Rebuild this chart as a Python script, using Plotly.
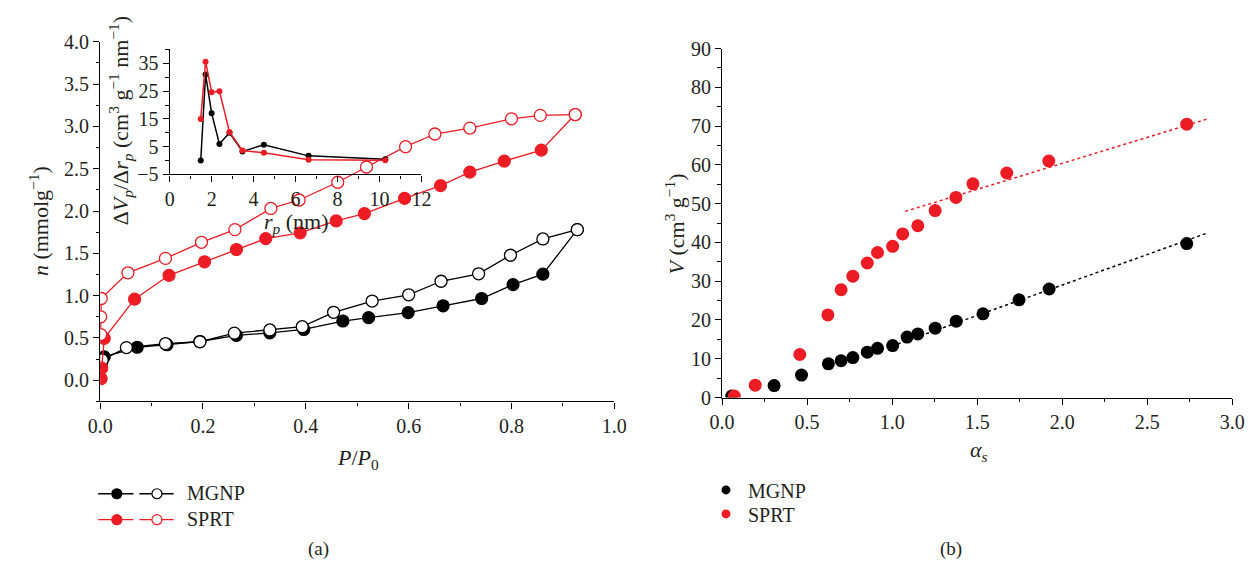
import plotly.graph_objects as go

# ---------------- data: panel (a) main isotherms ----------------
mgnp_ads_x = [0.003, 0.008, 0.072, 0.130, 0.194, 0.265, 0.330, 0.396, 0.472, 0.522, 0.599, 0.667, 0.742, 0.803, 0.861, 0.928]
mgnp_ads_y = [0.21, 0.277, 0.39, 0.42, 0.458, 0.53, 0.56, 0.60, 0.70, 0.74, 0.80, 0.88, 0.966, 1.13, 1.254, 1.78]
mgnp_des_x = [0.928, 0.861, 0.798, 0.736, 0.663, 0.600, 0.529, 0.454, 0.393, 0.330, 0.261, 0.194, 0.127, 0.051, 0.004]
mgnp_des_y = [1.78, 1.67, 1.477, 1.258, 1.17, 1.01, 0.936, 0.803, 0.633, 0.595, 0.557, 0.455, 0.432, 0.386, 0.24]

sprt_ads_x = [0.002, 0.003, 0.008, 0.067, 0.134, 0.203, 0.265, 0.322, 0.389, 0.459, 0.514, 0.592, 0.662, 0.719, 0.786, 0.858, 0.924]
sprt_ads_y = [0.02, 0.143, 0.495, 0.958, 1.24, 1.40, 1.545, 1.674, 1.742, 1.883, 1.97, 2.15, 2.30, 2.46, 2.59, 2.72, 3.14]
sprt_des_x = [0.924, 0.856, 0.800, 0.719, 0.651, 0.594, 0.518, 0.462, 0.387, 0.332, 0.262, 0.197, 0.127, 0.054, 0.002, 0.001, 0.001]
sprt_des_y = [3.14, 3.13, 3.09, 2.98, 2.91, 2.76, 2.52, 2.34, 2.13, 2.03, 1.78, 1.63, 1.44, 1.27, 0.966, 0.75, 0.54]

# ---------------- data: panel (a) inset PSD ----------------
psd_r = [1.48, 1.71, 2.00, 2.37, 2.85, 3.47, 4.49, 6.62, 10.28]
psd_mgnp = [0.0, 31.0, 17.0, 6.0, 10.0, 3.3, 5.7, 1.7, 0.5]
psd_sprt = [15.0, 35.6, 24.6, 25.0, 10.3, 3.6, 2.8, 0.3, 0.1]

# ---------------- data: panel (b) alpha-s plots ----------------
as_mgnp_x = [0.057, 0.306, 0.467, 0.625, 0.700, 0.769, 0.854, 0.914, 1.003, 1.088, 1.151, 1.253, 1.377, 1.534, 1.746, 1.923, 2.732]
as_mgnp_y = [0.4, 3.1, 5.8, 8.7, 9.5, 10.3, 11.7, 12.7, 13.4, 15.6, 16.4, 17.9, 19.7, 21.6, 25.2, 28.0, 39.7]
as_sprt_x = [0.072, 0.195, 0.457, 0.622, 0.700, 0.769, 0.854, 0.914, 1.003, 1.062, 1.151, 1.253, 1.375, 1.475, 1.674, 1.921, 2.732]
as_sprt_y = [0.4, 3.2, 11.1, 21.3, 27.8, 31.3, 34.7, 37.4, 39.0, 42.2, 44.3, 48.2, 51.6, 55.1, 57.9, 61.0, 70.5]
fit_mgnp_x = [1.00, 2.851]
fit_mgnp_y = [13.3, 42.4]
fit_sprt_x = [1.077, 2.851]
fit_sprt_y = [48.0, 71.8]

legend_names = ["MGNP", "SPRT"]

BLACK = "#000000"
RED = "#ed1c24"
TXT = "#231f20"
FONT = "Liberation Serif"
W, H = 1260, 573


def px(x):
    return x / W


def py(y):
    return 1 - y / H


fig = go.Figure()

# main (a)
fig.add_trace(go.Scatter(x=mgnp_ads_x, y=mgnp_ads_y, mode="lines+markers", xaxis="x", yaxis="y",
                         line=dict(color=BLACK, width=1.3),
                         marker=dict(size=12, color=BLACK, line=dict(color=BLACK, width=1.2)), showlegend=False))
fig.add_trace(go.Scatter(x=mgnp_des_x, y=mgnp_des_y, mode="lines+markers", xaxis="x", yaxis="y",
                         line=dict(color=BLACK, width=1.3),
                         marker=dict(size=12, color="white", line=dict(color=BLACK, width=1.3)), showlegend=False))
fig.add_trace(go.Scatter(x=sprt_ads_x, y=sprt_ads_y, mode="lines+markers", xaxis="x", yaxis="y",
                         line=dict(color=RED, width=1.3),
                         marker=dict(size=12, color=RED, line=dict(color=RED, width=1.2)), showlegend=False))
fig.add_trace(go.Scatter(x=sprt_des_x, y=sprt_des_y, mode="lines+markers", xaxis="x", yaxis="y",
                         line=dict(color=RED, width=1.3),
                         marker=dict(size=12, color="white", line=dict(color=RED, width=1.3)), showlegend=False))

# inset
fig.add_trace(go.Scatter(x=psd_r, y=psd_mgnp, mode="lines+markers", xaxis="x3", yaxis="y3",
                         line=dict(color=BLACK, width=1.5), marker=dict(size=6, color=BLACK), showlegend=False))
fig.add_trace(go.Scatter(x=psd_r, y=psd_sprt, mode="lines+markers", xaxis="x3", yaxis="y3",
                         line=dict(color=RED, width=1.5), marker=dict(size=6, color=RED), showlegend=False))

# (b)
fig.add_trace(go.Scatter(x=fit_mgnp_x, y=fit_mgnp_y, mode="lines", xaxis="x2", yaxis="y2",
                         line=dict(color=BLACK, width=1.5, dash="dot"), showlegend=False))
fig.add_trace(go.Scatter(x=fit_sprt_x, y=fit_sprt_y, mode="lines", xaxis="x2", yaxis="y2",
                         line=dict(color=RED, width=1.5, dash="dot"), showlegend=False))
fig.add_trace(go.Scatter(x=as_mgnp_x, y=as_mgnp_y, mode="markers", xaxis="x2", yaxis="y2",
                         marker=dict(size=13, color=BLACK), showlegend=False))
fig.add_trace(go.Scatter(x=as_sprt_x, y=as_sprt_y, mode="markers", xaxis="x2", yaxis="y2",
                         marker=dict(size=13, color=RED), showlegend=False))

axis_common = dict(showline=True, linecolor=BLACK, linewidth=1.2, ticks="outside", ticklen=6,
                   tickcolor=BLACK, tickwidth=1.2, showgrid=False, zeroline=False,
                   tickfont=dict(family=FONT, size=20, color=TXT))
minor_common = dict(ticks="outside", ticklen=3.5, tickcolor=BLACK, tickwidth=1.1, showgrid=False)

fig.update_layout(
    width=W, height=H, margin=dict(l=0, r=0, t=0, b=0),
    paper_bgcolor="white", plot_bgcolor="rgba(0,0,0,0)",
    font=dict(family=FONT, size=20, color=TXT),
    xaxis=dict(domain=[px(89), px(614)], anchor="y", range=[0, 1.0], dtick=0.2, tick0=0, tickformat=".1f",
               minor=dict(dtick=0.1, **minor_common), **axis_common),
    yaxis=dict(domain=[py(406), py(32)], anchor="x", range=[-0.25, 4.0], dtick=0.5, tick0=0, tickformat=".1f",
               minor=dict(dtick=0.25, tick0=0, **minor_common), **axis_common),
    xaxis2=dict(domain=[px(724), px(1245)], anchor="y2", range=[0, 3.0], dtick=0.5, tick0=0, tickformat=".1f",
                minor=dict(dtick=0.25, **minor_common), **axis_common),
    yaxis2=dict(domain=[py(402), py(39)], anchor="x2", range=[0, 90], dtick=10, tick0=0,
                minor=dict(dtick=5, **minor_common), **axis_common),
    xaxis3=dict(domain=[px(160), px(417)], anchor="y3", range=[0, 12], dtick=2, tick0=0,
                minor=dict(dtick=1, **minor_common), **axis_common),
    yaxis3=dict(domain=[py(170), py(40)], anchor="x3", range=[-5, 40], tickvals=[-5, 5, 15, 25, 35],
                minor=dict(dtick=5, tick0=0, **minor_common), **axis_common),
)

ann = []
def add_text(text, x, y, angle=0, xanchor="center", size=20):
    ann.append(dict(text=text, x=px(x), y=py(y), xref="paper", yref="paper", showarrow=False,
                    textangle=angle, xanchor=xanchor, yanchor="middle",
                    font=dict(family=FONT, size=size, color=TXT)))

add_text("<i>P</i>/<i>P</i><sub>0</sub>", 352, 466, size=22)
add_text("<i>n</i> (mmolg<sup>−1</sup>)", 26, 218, angle=-90, size=22)
add_text("Δ<i>V<sub>p</sub></i>/Δ<i>r<sub>p</sub></i> (cm<sup>3</sup> g<sup>−1</sup> nm<sup>−1</sup>)", 110, 114, angle=-90, size=22)
add_text("<i>r<sub>p</sub></i> (nm)", 289, 220, size=22)
add_text("<i>α<sub>s</sub></i>", 986, 458, size=22)
add_text("<i>V</i> (cm<sup>3</sup> g<sup>−1</sup>)", 676, 222, angle=-90, size=22)
add_text("(a)", 312, 560, size=19)
add_text("(b)", 958, 560, size=19)

shapes = []
# legend (a)
for i, (name, col) in enumerate(zip(legend_names, [BLACK, RED])):
    yy = 502 + 27 * i
    for (xa, xb) in [(87, 123), (129, 164)]:
        shapes.append(dict(type="line", xref="paper", yref="paper", x0=px(xa), x1=px(xb), y0=py(yy), y1=py(yy),
                           line=dict(color=col, width=1.3)))
    shapes.append(dict(type="circle", xref="paper", yref="paper", xsizemode="pixel", ysizemode="pixel",
                       xanchor=px(106), yanchor=py(yy), x0=-5, x1=5, y0=-5, y1=5,
                       fillcolor=col, line=dict(color=col, width=1.2)))
    shapes.append(dict(type="circle", xref="paper", yref="paper", xsizemode="pixel", ysizemode="pixel",
                       xanchor=px(147), yanchor=py(yy), x0=-5, x1=5, y0=-5, y1=5,
                       fillcolor="white", line=dict(color=col, width=1.2)))
    add_text(name, 176, yy - 1, xanchor="left")
# legend (b)
for i, (name, col) in enumerate(zip(legend_names, [BLACK, RED])):
    yy = 498 + 25 * i
    shapes.append(dict(type="circle", xref="paper", yref="paper", xsizemode="pixel", ysizemode="pixel",
                       xanchor=px(728), yanchor=py(yy), x0=-4.5, x1=4.5, y0=-4.5, y1=4.5,
                       fillcolor=col, line=dict(color=col, width=0)))
    add_text(name, 748, yy + 1, xanchor="left")

fig.update_layout(annotations=ann, shapes=shapes)
fig.write_html("out.html", config={"displayModeBar": False},
               post_script="document.body.style.margin='0';")
